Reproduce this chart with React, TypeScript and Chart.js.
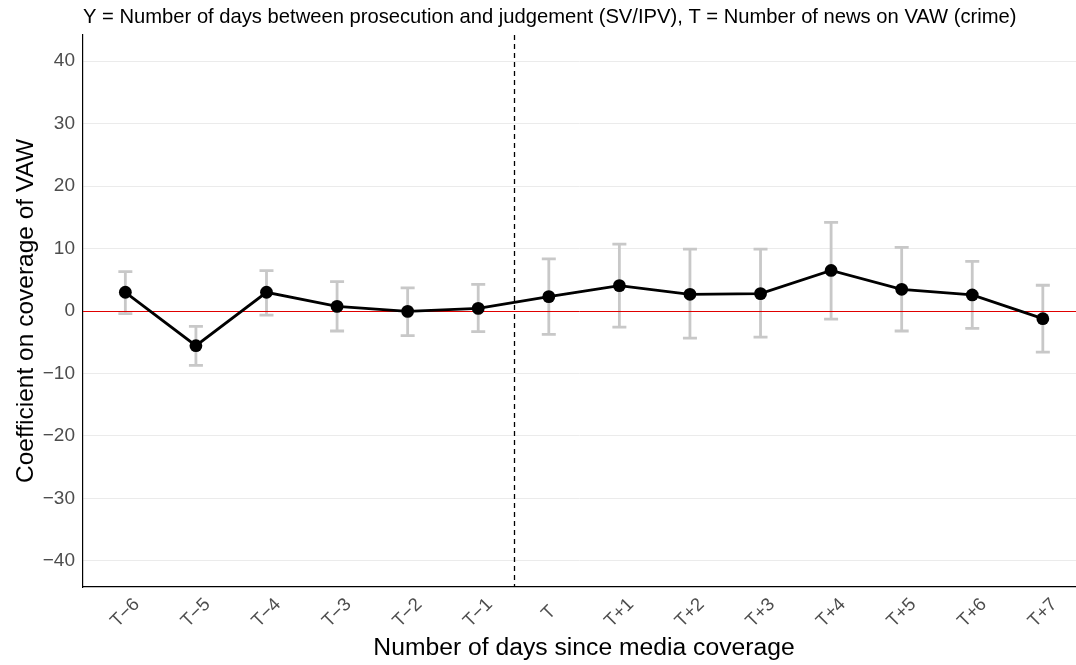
import React, { useEffect, useRef } from "react";
import { Chart, registerables } from "chart.js";

Chart.register(...registerables);

const titleText =
  "Y = Number of days between prosecution and judgement (SV/IPV), T = Number of news on VAW (crime)";
const xAxisTitle = "Number of days since media coverage";
const yAxisTitle = "Coefficient on coverage of VAW";

const categories = ["T−6", "T−5", "T−4", "T−3", "T−2", "T−1", "T", "T+1", "T+2", "T+3", "T+4", "T+5", "T+6", "T+7"];
const coefficients = [3.0, -5.55, 3.0, 0.74, -0.06, 0.42, 2.3, 4.06, 2.67, 2.78, 6.5, 3.47, 2.57, -1.23];
const upperCI = [6.3, -2.46, 6.45, 4.7, 3.7, 4.27, 8.35, 10.7, 9.9, 9.9, 14.2, 10.2, 7.95, 4.12];
const lowerCI = [-0.43, -8.7, -0.65, -3.2, -3.95, -3.3, -3.75, -2.57, -4.33, -4.17, -1.29, -3.2, -2.78, -6.6];
const yTickValues = [-40, -30, -20, -10, 0, 10, 20, 30, 40];
const eventPosition = 5.5;

const FONT = '"Liberation Sans", Arial, Helvetica, sans-serif';

const decorPlugin = {
  id: "decor",
  beforeDatasetsDraw(chart: any) {
    const { ctx, chartArea, scales } = chart;
    const xs = scales.x;
    const ys = scales.y;
    ctx.save();
    // error bars
    ctx.strokeStyle = "#c8c8c8";
    ctx.lineWidth = 2.8;
    ctx.lineCap = "butt";
    for (let i = 0; i < categories.length; i++) {
      const x = xs.getPixelForValue(i);
      const yt = ys.getPixelForValue(upperCI[i]);
      const yb = ys.getPixelForValue(lowerCI[i]);
      ctx.beginPath();
      ctx.moveTo(x, yt);
      ctx.lineTo(x, yb);
      ctx.moveTo(x - 7, yt);
      ctx.lineTo(x + 7, yt);
      ctx.moveTo(x - 7, yb);
      ctx.lineTo(x + 7, yb);
      ctx.stroke();
    }
    // zero line
    const y0 = Math.round(ys.getPixelForValue(0)) + 0.5;
    ctx.strokeStyle = "#e00000";
    ctx.lineWidth = 1;
    ctx.beginPath();
    ctx.moveTo(chartArea.left, y0);
    ctx.lineTo(chartArea.right, y0);
    ctx.stroke();
    // dashed event line
    const xe = Math.round(xs.getPixelForValue(eventPosition)) + 0.5;
    ctx.strokeStyle = "#000000";
    ctx.lineWidth = 1.3;
    ctx.setLineDash([5, 4]);
    ctx.beginPath();
    ctx.moveTo(xe, chartArea.top);
    ctx.lineTo(xe, chartArea.bottom);
    ctx.stroke();
    ctx.restore();
  },
  afterDraw(chart: any) {
    const { ctx, chartArea, scales } = chart;
    const xs = scales.x;
    ctx.save();
    // plot title
    ctx.fillStyle = "#000000";
    ctx.font = `20.2px ${FONT}`;
    ctx.textAlign = "left";
    ctx.textBaseline = "alphabetic";
    ctx.fillText(titleText, chartArea.left, 22.7);
    // x tick labels
    ctx.fillStyle = "#4d4d4d";
    ctx.font = `18.5px ${FONT}`;
    ctx.textAlign = "center";
    ctx.textBaseline = "middle";
    for (let i = 0; i < categories.length; i++) {
      const x = xs.getPixelForValue(i);
      ctx.save();
      ctx.translate(x, chartArea.bottom + 26);
      ctx.rotate(-Math.PI / 4);
      ctx.fillText(categories[i], 0, 0);
      ctx.restore();
    }
    // x axis title
    ctx.fillStyle = "#000000";
    ctx.font = `24.7px ${FONT}`;
    ctx.textAlign = "center";
    ctx.textBaseline = "alphabetic";
    ctx.fillText(xAxisTitle, 584, 655);
    // y axis title
    ctx.font = `24.5px ${FONT}`;
    ctx.save();
    ctx.translate(33, (chartArea.top + chartArea.bottom) / 2);
    ctx.rotate(-Math.PI / 2);
    ctx.fillText(yAxisTitle, 0, 0);
    ctx.restore();
    ctx.restore();
  },
};

export default function App() {
  const canvasRef = useRef<HTMLCanvasElement | null>(null);

  useEffect(() => {
    const canvas = canvasRef.current;
    if (!canvas) return;
    const chart = new Chart(canvas, {
      type: "line",
      data: {
        datasets: [
          {
            data: coefficients.map((v, i) => ({ x: i, y: v })),
            borderColor: "#000000",
            backgroundColor: "#000000",
            borderWidth: 2.8,
            pointRadius: 6.4,
            pointHoverRadius: 6.4,
            pointBackgroundColor: "#000000",
            pointBorderWidth: 0,
            tension: 0,
          },
        ],
      },
      options: {
        animation: false,
        responsive: false,
        devicePixelRatio: 1,
        events: [],
        layout: { autoPadding: false, padding: { top: 35, right: 0, bottom: 0, left: 0 } },
        plugins: {
          legend: { display: false },
          tooltip: { enabled: false },
          title: { display: false },
        },
        scales: {
          x: {
            type: "linear",
            min: -0.6,
            max: 13.47,
            grid: { display: false, drawTicks: false },
            border: { display: true, color: "#000000", width: 1.2 },
            ticks: { display: false },
            afterFit(scale: any) {
              scale.height = 78;
            },
          },
          y: {
            type: "linear",
            min: -44.2,
            max: 44.2,
            grid: { color: "#ebebeb", lineWidth: 1, drawTicks: false },
            border: { display: true, color: "#000000", width: 1.2 },
            afterBuildTicks(scale: any) {
              scale.ticks = yTickValues.map((v) => ({ value: v }));
            },
            ticks: {
              padding: 8,
              color: "#4d4d4d",
              font: { family: FONT, size: 19 },
              callback: (v: any) => String(v).replace("-", "−"),
            },
            afterFit(scale: any) {
              scale.width = 83;
            },
          },
        },
      },
      plugins: [decorPlugin],
    });
    return () => chart.destroy();
  }, []);

  return (
    <div style={{ position: "fixed", left: 0, top: 0, width: 1076, height: 665, background: "#ffffff" }}>
      <canvas ref={canvasRef} width={1076} height={665} style={{ display: "block", width: 1076, height: 665 }} />
    </div>
  );
}
